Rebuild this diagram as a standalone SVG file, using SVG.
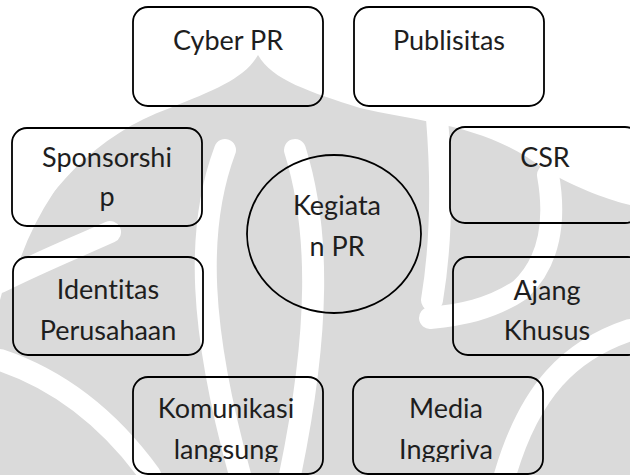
<svg xmlns="http://www.w3.org/2000/svg" width="630" height="475" viewBox="0 0 630 475">
  <style>
    .box { fill: none; stroke: #000; stroke-width: 1.8; }
    .lbl { font-family: Lato, "Liberation Sans", sans-serif; font-size: 27px; fill: #1e1e1e; text-anchor: middle; font-variant-ligatures: none; font-feature-settings: "liga" 0, "clig" 0; }
    .wm { fill: #dadada; }
    .band { fill: none; stroke: #ffffff; stroke-linecap: round; stroke-width: 22; }
  </style>
  <defs>
    <clipPath id="clipBottom">
      <rect x="0" y="0" width="630" height="462"/>
    </clipPath>
  </defs>
  <rect x="0" y="0" width="630" height="475" fill="#ffffff"/>
  <g id="watermark">
    <path class="wm" d="M258,55 C272,80 310,92 360,108 C420,122 490,125 545,170 C580,190 610,200 630,205 L630,475 L0,475 L0,300 C20,220 80,140 170,108 C215,90 245,78 258,55 Z"/>
    <path class="band" d="M95,125 C50,170 20,220 5,270"/>
    <path class="band" d="M0,282 C40,262 70,250 110,232"/>
    <path class="band" d="M0,360 C60,380 110,420 150,475"/>
    <path class="band" d="M225,150 C195,230 200,330 240,475"/>
    <path class="band" d="M295,150 C320,230 320,330 290,475"/>
    <path class="band" d="M437,118 C442,180 442,240 432,300"/>
    <path class="band" d="M548,175 C556,220 550,262 520,290 C490,310 460,315 430,318"/>
    <path class="band" d="M630,330 C570,350 530,390 505,475"/>
  </g>
  <g id="connectors"/>
  <g id="cyber-pr">
    <rect class="box" x="133" y="7" width="190" height="99" rx="15"/>
    <text class="lbl" x="228" y="50">Cyber PR</text>
  </g>
  <g id="publisitas">
    <rect class="box" x="354" y="7" width="190" height="99" rx="15"/>
    <text class="lbl" x="449" y="50">Publisitas</text>
  </g>
  <g id="sponsorship">
    <rect class="box" x="12" y="128" width="190" height="98" rx="15"/>
    <text class="lbl" x="107" y="167">Sponsorshi</text>
    <text class="lbl" x="107" y="206">p</text>
  </g>
  <g id="csr">
    <rect class="box" x="450" y="127" width="190" height="96" rx="15"/>
    <text class="lbl" x="545" y="167">CSR</text>
  </g>
  <g id="kegiatan-pr">
    <ellipse class="box" cx="334" cy="234" rx="87" ry="79"/>
    <text class="lbl" x="337" y="215">Kegiata</text>
    <text class="lbl" x="337" y="256">n PR</text>
  </g>
  <g id="identitas">
    <rect class="box" x="13" y="257" width="190" height="98" rx="15"/>
    <text class="lbl" x="108" y="299">Identitas</text>
    <text class="lbl" x="108" y="340">Perusahaan</text>
  </g>
  <g id="ajang-khusus">
    <rect class="box" x="453" y="257" width="190" height="98" rx="15"/>
    <text class="lbl" x="547" y="300">Ajang</text>
    <text class="lbl" x="547" y="340">Khusus</text>
  </g>
  <g id="komunikasi">
    <rect class="box" x="133" y="377" width="190" height="97" rx="15"/>
    <g clip-path="url(#clipBottom)">
      <text class="lbl" x="226" y="418">Komunikasi</text>
      <text class="lbl" x="226" y="459">langsung</text>
    </g>
  </g>
  <g id="media">
    <rect class="box" x="353" y="377" width="190" height="97" rx="15"/>
    <g clip-path="url(#clipBottom)">
      <text class="lbl" x="446" y="418">Media</text>
      <text class="lbl" x="446" y="459">Inggriva</text>
    </g>
  </g>
</svg>
